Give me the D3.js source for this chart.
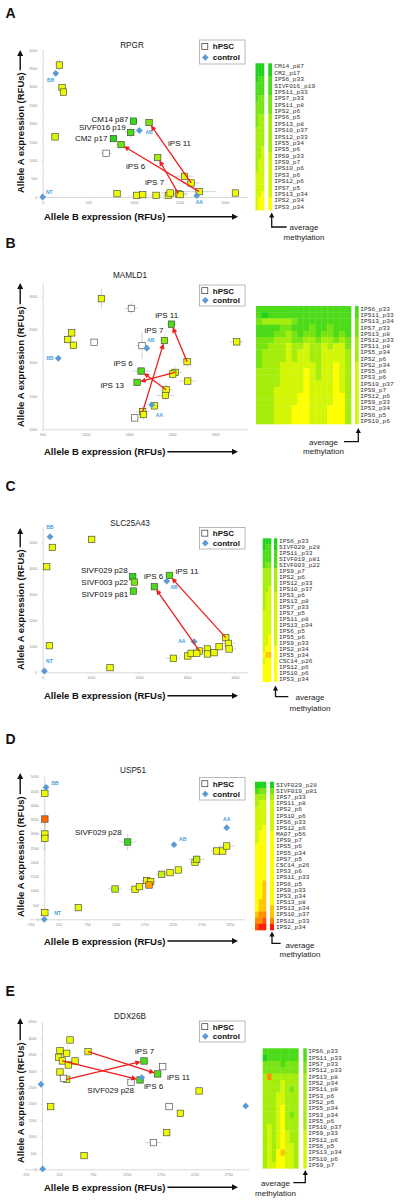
<!DOCTYPE html>
<html><head><meta charset="utf-8">
<script src="https://cdn.jsdelivr.net/npm/d3@7"></script>
<style>body{margin:0;background:#fff}svg{display:block}</style>
</head><body>
<svg id="c" width="400" height="1204"></svg>
<script>
// ---------------- DATA ----------------
const letters = ["A","B","C","D","E"];
const genes = ["RPGR","MAMLD1","SLC25A43","USP51","DDX26B"];

// Panel A – RPGR
const aX = [183,212,227,135,695,775,859,995,965,1166,1261,1554,1627,1715,815,1031,1097,1243,1378,1397,1488,1506,2113];
const aY = [3590,2980,2855,1636,1190,1590,1427,2064,1755,2027,1073,564,382,145,91,45,64,45,45,109,91,64,109];
const aMeth = [4.6,4.6,4.6,4.2,null,0.3,1.8,0.5,1,2,3,4.2,4.6,4.6,4.6,4.6,4.6,4.6,4.6,4.6,4.6,4.6,4.6];
const aXErr = [20,20,20,0,60,30,50,30,60,40,40,100,100,180,30,60,40,60,60,100,100,80,30];
const aYErr = [150,60,60,50,70,50,60,80,150,60,80,80,80,60,30,20,20,20,20,40,40,20,40];
const aCtrlName = ["BB","AB","AA","NT"];
const aCtrlX = [143,1060,1689,0];
const aCtrlY = [3364,1809,36,0];
const aArrowFrom = [13,12,20];
const aArrowTo = [6,9,10];
const aArrowName = ["iPS 6","iPS 11","iPS 7"];
const aNamed = ["CM14 p87","SIVF016 p19","CM2 p17"];
const aNamedIdx = [7,8,5];
const aXTicks = [0,500,1000,1500,2000];
const aYTicks = [0,500,1000,1500,2000,2500,3000,3500,4000];
const aHeatRows = ["CM14_p87","CM2_p17","IPS6_p33","SIVF016_p19","IPS11_p33","IPS7_p33","IPS11_p8","IPS2_p6","IPS6_p5","IPS13_p8","IPS10_p37","IPS12_p33","IPS5_p34","IPS5_p6","IPS9_p33","IPS9_p7","IPS10_p6","IPS3_p6","IPS12_p6","IPS7_p5","IPS13_p34","IPS2_p34","IPS3_p34"];
const aHeatCells = ["000","000","011","111","111","122","222","222","233","233","333","333","333","334","334","344","344","444","444","444","445","455","455"];
const aHeatAvg = [0,0,1,1,1,2,2,2,3,3,3,3,3,3,4,4,4,4,4,4,4,5,5];

// Panel B – MAMLD1
const bX = [1345,1623,1069,1032,1085,1277,1722,1995,1930,2601,2140,1713,1676,2029,2007,2146,1945,1939,1837,1728,1735,1654];
const bY = [2960,2814,2447,2347,2261,2306,2256,2578,2332,2312,2015,1874,1704,1854,1829,1724,1593,1508,1352,1266,1221,1171];
const bMeth = [4.6,null,4.6,4.6,4.6,null,null,1,2.5,4.6,4.6,1,1.2,4.3,4.6,4.6,4.6,4.6,4.6,4.3,4.6,null];
const bXErr = [40,60,20,20,20,20,60,40,40,60,40,80,30,60,60,80,60,80,40,60,40,40];
const bYErr = [150,80,60,60,60,30,200,50,80,60,60,60,40,80,80,60,100,80,60,100,80,40];
const bCtrlName = ["BB","AB","AA"];
const bCtrlX = [945,1766,1812];
const bCtrlY = [2065,2216,1367];
const bArrowFrom = [10,19,16,13];
const bArrowTo = [7,8,11,12];
const bArrowName = ["iPS 11","iPS 7","iPS 6","iPS 13"];
const bNamed = [];
const bNamedIdx = [];
const bXTicks = [800,1200,1600,2000,2400];
const bYTicks = [1000,1500,2000,2500,3000];
const bHeatRows = ["IPS6_p33","IPS11_p33","IPS13_p34","IPS7_p33","IPS13_p8","IPS12_p33","IPS11_p8","IPS5_p34","IPS2_p6","IPS2_p34","IPS5_p6","IPS3_p6","IPS10_p37","IPS9_p7","IPS12_p6","IPS9_p33","IPS3_p34","IPS6_p5","IPS10_p6"];
const bHeatCells = ["1111111111111111","1011111111111111","2333332111111111","1111221112112111","1112232122122121","2223332233233232","2233343343343442","2333343443344443","2333343443344443","2333444444344543","3333444454344543","3333444454344543","3333444454444543","3334444454444543","3334444554444553","3334444554444553","3334445554445553","3334445554445553","3334445554445553"];
const bHeatAvg = [1,1,2,2,2,3,3,3,3,4,4,4,4,4,4,4,4,4,4];

// Panel C – SLC25A43
const cX = [1019,201,83,139,1400,1872,1906,1886,2322,2634,2718,3016,3085,3258,3203,3425,3425,3563,3667,3806,3861,3875];
const cY = [5129,4820,4075,1028,180,3689,3483,3136,3303,3740,540,630,733,823,733,900,707,758,990,1337,1118,900];
const cMeth = [4.6,4.6,4.6,4.6,4.6,0.5,2,1,1,1.2,4.6,4.6,4.6,4.6,4.6,4.6,4.6,4.6,4.6,4.6,4.6,4.6];
const cXErr = [40,40,0,0,80,40,40,40,40,40,150,60,80,200,100,100,80,80,80,80,150,150];
const cYErr = [150,80,0,0,50,80,100,100,50,50,50,50,60,60,60,60,60,50,60,80,80,80];
const cCtrlName = ["BB","AB","AA","NT"];
const cCtrlX = [153,2579,3147,35];
const cCtrlY = [5231,3522,1183,51];
const cArrowFrom = [19,13];
const cArrowTo = [9,8];
const cArrowName = ["iPS 11","iPS 6"];
const cNamed = ["SIVF029 p28","SIVF003 p22","SIVF019 p81"];
const cNamedIdx = [5,6,7];
const cXTicks = [0,1000,2000,3000,4000];
const cYTicks = [0,1000,2000,3000,4000,5000];
const cHeatRows = ["IPS6_p33","SIVF029_p28","IPS11_p33","SIVF019_p81","SIVF003_p22","IPS9_p7","IPS2_p6","IPS12_p33","IPS10_p37","IPS3_p6","IPS13_p8","IPS7_p33","IPS7_p5","IPS11_p8","IPS13_p34","IPS6_p5","IPS5_p6","IPS9_p33","IPS2_p34","IPS5_p34","CSC14_p26","IPS12_p6","IPS10_p6","IPS3_p34"];
const cHeatCells = ["000","011","111","111","122","333","333","333","334","344","344","344","444","444","444","444","445","445","455","566","455","555","555","555"];
const cHeatAvg = [0,0,1,1,1,3,3,3,3,4,4,4,4,4,4,4,4,4,5,5,5,5,5,5];

// Panel D – USP51
const dX = [10,10,10,10,10,596,1459,1238,1588,1664,1792,1862,1833,2054,2200,2346,2638,2667,3017,3122,3192];
const dY = [4416,3516,2990,2839,234,409,2710,1063,1051,1145,1355,1320,1203,1577,1636,1729,1998,2103,2395,2395,2570];
const dMeth = [4.6,7.6,4.6,4.6,4.6,4.6,0.5,3.5,4.6,4.6,4.6,4.6,6.6,3.8,4.6,4.6,4.6,3.5,4.6,4.6,4.6];
const dXErr = [0,0,0,0,0,0,150,120,100,100,100,100,60,100,80,60,100,150,100,100,150];
const dYErr = [100,250,600,100,100,0,300,60,80,100,100,100,100,80,100,60,60,150,80,60,80];
const dCtrlName = ["BB","AB","AA","NT"];
const dCtrlX = [30,2270,3192,0];
const dCtrlY = [4626,2617,3213,0];
const dArrowFrom = [];
const dArrowTo = [];
const dArrowName = [];
const dNamed = ["SIVF029 p28"];
const dNamedIdx = [6];
const dXTicks = [-250,250,750,1250,1750,2250,2750,3250];
const dYTicks = [0,500,1000,1500,2000,2500,3000,3500,4000,4500,5000];
const dHeatRows = ["SIVF029_p28","SIVF019_p81","IPS7_p33","IPS11_p8","IPS2_p6","IPS10_p6","IPS6_p33","IPS12_p6","MA07_p56","IPS9_p7","IPS5_p6","IPS5_p34","IPS7_p5","CSC14_p26","IPS3_p6","IPS11_p33","IPS6_p5","IPS9_p33","IPS3_p34","IPS13_p8","IPS13_p34","IPS10_p37","IPS12_p33","IPS2_p34"];
const dHeatCells = ["000","122","333","344","444","444","444","445","455","455","555","555","555","555","555","555","556","556","556","566","566","677","778","899"];
const dHeatAvg = [0,2,3,4,4,4,4,4,5,5,5,5,5,5,5,5,5,5,5,5,6,6,7,9];

// Panel E – DDX26B
const eX = [414,266,365,247,301,389,488,680,266,365,316,129,621,1314,1447,1506,1708,1781,1875,1644,1840,2042,2318];
const eY = [3943,3618,3537,3415,3303,3181,3303,3587,2967,2744,2774,1911,417,2652,2724,3303,2907,3130,1911,813,1118,1707,2388];
const eMeth = [4.6,4.6,4.6,4.6,4.6,4.6,4.6,4.6,4.6,4.6,null,4.6,4.6,null,1,1,1.2,null,null,null,4.6,4.6,4.6];
const eXErr = [20,20,20,20,20,20,20,40,20,20,20,0,0,40,40,60,60,40,60,120,50,30,40];
const eYErr = [40,80,40,40,40,40,40,40,40,40,40,0,0,40,60,40,40,40,40,40,30,30,30];
const eCtrlName = ["BB","AB","AA","NT"];
const eCtrlX = [-14,1472,3005,11];
const eCtrlY = [2591,2795,1931,10];
const eArrowFrom = [9,4,7];
const eArrowTo = [15,14,16];
const eArrowName = ["iPS 7","iPS 6","iPS 11"];
const eNamed = ["SIVF029 p28"];
const eNamedIdx = [13];
const eXTicks = [-250,250,750,1250,1750,2250,2750];
const eYTicks = [0,500,1000,1500,2000,2500,3000,3500,4000,4500];
const eHeatRows = ["IPS6_p33","IPS11_p33","IPS7_p33","IPS12_p33","IPS13_p8","IPS2_p34","IPS11_p8","IPS3_p6","IPS2_p6","IPS5_p34","IPS3_p34","IPS5_p6","IPS10_p37","IPS9_p33","IPS12_p6","IPS6_p5","IPS13_p34","IPS10_p6","IPS9_p7"];
const eHeatCells = ["11111111","01111111","22221222","22222222","37333333","33334333","33334323","33344333","33344333","33345333","33345323","33345333","34345333","34345433","34345433","34345443","34356443","34355443","34455443"];
const eHeatAvg = [1,1,2,2,3,3,3,3,3,3,3,3,3,4,4,4,4,4,4];

// ---------------- LAYOUT ----------------
const panels = [
 {letter:letters[0],gene:genes[0],X:aX,Y:aY,M:aMeth,XE:aXErr,YE:aYErr,CN:aCtrlName,CX:aCtrlX,CY:aCtrlY,AF:aArrowFrom,AT:aArrowTo,AN:aArrowName,NN:aNamed,NI:aNamedIdx,XT:aXTicks,YT:aYTicks,HR:aHeatRows,HC:aHeatCells,HA:aHeatAvg},
 {letter:letters[1],gene:genes[1],X:bX,Y:bY,M:bMeth,XE:bXErr,YE:bYErr,CN:bCtrlName,CX:bCtrlX,CY:bCtrlY,AF:bArrowFrom,AT:bArrowTo,AN:bArrowName,NN:bNamed,NI:bNamedIdx,XT:bXTicks,YT:bYTicks,HR:bHeatRows,HC:bHeatCells,HA:bHeatAvg},
 {letter:letters[2],gene:genes[2],X:cX,Y:cY,M:cMeth,XE:cXErr,YE:cYErr,CN:cCtrlName,CX:cCtrlX,CY:cCtrlY,AF:cArrowFrom,AT:cArrowTo,AN:cArrowName,NN:cNamed,NI:cNamedIdx,XT:cXTicks,YT:cYTicks,HR:cHeatRows,HC:cHeatCells,HA:cHeatAvg},
 {letter:letters[3],gene:genes[3],X:dX,Y:dY,M:dMeth,XE:dXErr,YE:dYErr,CN:dCtrlName,CX:dCtrlX,CY:dCtrlY,AF:dArrowFrom,AT:dArrowTo,AN:dArrowName,NN:dNamed,NI:dNamedIdx,XT:dXTicks,YT:dYTicks,HR:dHeatRows,HC:dHeatCells,HA:dHeatAvg},
 {letter:letters[4],gene:genes[4],X:eX,Y:eY,M:eMeth,XE:eXErr,YE:eYErr,CN:eCtrlName,CX:eCtrlX,CY:eCtrlY,AF:eArrowFrom,AT:eArrowTo,AN:eArrowName,NN:eNamed,NI:eNamedIdx,XT:eXTicks,YT:eYTicks,HR:eHeatRows,HC:eHeatCells,HA:eHeatAvg}
];
const layouts = [
 {letterY:18,titleX:132,titleY:48,legend:[199.3,40,45.7,24],xDomain:[0,2250],xRange:[42.7,247.9],yDomain:[0,4000],yRange:[197,50],
  yLabY:193,yArrowTop:50,xLabY:220,xArrowY:216.7,
  heat:{x:255.5,w:8.5,y:63.3,h:146.7,avgX:268.3,avgW:3.7,labelX:274.3},
  note:{x:271.7,y0:212.5,y1:227,hx:286.7,tx:304,t1:229.5,t2:239.5},
  arrowLab:[[5,24.4,"start"],[19,23.5,"start"],[-12.7,27.4,"start"]],
  namedLab:[[-5,1,"end"],[-5,-3,"end"],[-6,2.5,"end"]],
  ctrlLab:[[-5,8.5],[9.7,3.2],[2.6,8.2],[6.6,-2.9]]},
 {letterY:248,titleX:130,titleY:278,legend:[199.3,285,45.7,21],xDomain:[800,2700],xRange:[42.7,247.4],yDomain:[1000,3200],yRange:[429.3,282.7],
  yLabY:427,yArrowTop:283,xLabY:455,xArrowY:451.7,
  heat:{x:256,w:95,y:306,h:118,avgX:355,avgW:3.7,labelX:360.3},
  note:{x:358.3,y0:428,y1:441.7,hx:344,tx:323.5,t1:444.5,t2:454},
  arrowLab:[[-16.3,-5.7,"start"],[-20,-7.3,"start"],[-8.3,-5.3,"end"],[-13,6,"end"]],
  namedLab:[],
  ctrlLab:[[-8.3,1.4],[4,-6.2],[7.6,11.8]]},
 {letterY:491,titleX:130,titleY:526,legend:[199.3,527.3,45.7,21.7],xDomain:[0,4250],xRange:[42.7,247.1],yDomain:[0,5600],yRange:[672.3,527.2],
  yLabY:670,yArrowTop:528,xLabY:699,xArrowY:695.7,
  heat:{x:262.7,w:8.3,y:538.3,h:143.4,avgX:274,avgW:3.3,labelX:279},
  note:{x:275.5,y0:685.5,y1:696.7,hx:288.3,tx:310,t1:699.5,t2:711},
  arrowLab:[[6,-1.6,"start"],[-10.3,-7.4,"start"]],
  namedLab:[[-5,-4,"end"],[-6.3,2.7,"end"],[-5.3,6.3,"end"]],
  ctrlLab:[[0,-7.6],[7.3,8.1],[-12.3,1.8],[5,-7.5]]},
 {letterY:744,titleX:133,titleY:773,legend:[199.3,777.7,45.7,22.3],xDomain:[-250,3500],xRange:[30,244.3],yDomain:[0,5000],yRange:[919.3,776.7],
  yLabY:917,yArrowTop:773,xLabY:944.5,xArrowY:941,
  heat:{x:255,w:11,y:781.7,h:148.3,avgX:270,avgW:4,labelX:276},
  note:{x:272,y0:931.5,y1:943.3,hx:280.7,tx:300,t1:947.8,t2:956.8},
  arrowLab:[],
  namedLab:[[-6,-6.7,"end"]],
  ctrlLab:[[9,-2.8],[8.7,-3.6],[0,-6.6],[13.3,-4.2]]},
 {letterY:996,titleX:130,titleY:1019,legend:[199.3,1021,45.7,21],xDomain:[-250,3050],xRange:[25,248.7],yDomain:[0,4500],yRange:[1169.3,1021.7],
  yLabY:1163,yArrowTop:1018,xLabY:1190.8,xArrowY:1187.3,
  heat:{x:262.7,w:35.6,y:1048.3,h:120,avgX:303.3,avgW:3.4,labelX:308.3},
  note:{x:305.3,y0:1170,y1:1182.7,hx:293.3,tx:275.5,t1:1186,t2:1196},
  arrowLab:[[-9,-7.3,"start"],[4,8.7,"start"],[9.3,6.3,"start"]],
  namedLab:[[3,10.4,"end"]],
  ctrlLab:null}
];

// ---------------- DRAW ----------------
const svg = d3.select("#c");
const SANS = "Arial, 'Liberation Sans', sans-serif";
const color = d3.scaleLinear().domain([0,5,9]).range(["#1ed21e","#ffff00","#ff1a00"]).clamp(true);
const CTRL = "#5b9bd5";
const fmt = d3.format("d");

function arrowHead(g, x1, y1, x2, y2, len, hw, fill){
  const a = Math.atan2(y2-y1, x2-x1);
  const bx = x2 - len*Math.cos(a), by = y2 - len*Math.sin(a);
  const px = -Math.sin(a)*hw, py = Math.cos(a)*hw;
  g.append("path").attr("d",`M${x2},${y2}L${bx+px},${by+py}L${bx-px},${by-py}Z`).attr("fill",fill);
}
function arrowLine(g, x1,y1,x2,y2, col, w, len, hw){
  const a = Math.atan2(y2-y1, x2-x1);
  g.append("line").attr("x1",x1).attr("y1",y1)
    .attr("x2",x2-(len-1)*Math.cos(a)).attr("y2",y2-(len-1)*Math.sin(a))
    .attr("stroke",col).attr("stroke-width",w);
  arrowHead(g,x1,y1,x2,y2,len,hw,col);
}

panels.forEach((P,pi)=>{
  const L = layouts[pi];
  const g = svg.append("g");
  const x = d3.scaleLinear().domain(L.xDomain).range(L.xRange);
  const y = d3.scaleLinear().domain(L.yDomain).range(L.yRange);

  g.append("text").attr("x",5.5).attr("y",L.letterY).text(P.letter)
    .attr("font-family",SANS).attr("font-size",14).attr("font-weight","bold").attr("fill","#111");
  g.append("text").attr("x",L.titleX).attr("y",L.titleY).attr("text-anchor","middle").text(P.gene)
    .attr("font-family",SANS).attr("font-size",8.2).attr("fill","#222");

  // axes
  const yAxisX = x(Math.max(L.xDomain[0],0));
  const ya = g.append("g").attr("transform",`translate(${yAxisX},0)`)
    .call(d3.axisLeft(y).tickValues(P.YT).tickFormat(fmt).tickSize(1.5).tickSizeOuter(0).tickPadding(4));
  const xa = g.append("g").attr("transform",`translate(0,${y(L.yDomain[0])})`)
    .call(d3.axisBottom(x).tickValues(P.XT).tickFormat(fmt).tickSize(1.5).tickSizeOuter(0).tickPadding(2.5));
  [ya,xa].forEach(a=>{
    a.attr("font-size",3.6).attr("font-family",SANS);
    a.select(".domain").attr("stroke","#c8c8c8").attr("stroke-width",0.7);
    a.selectAll(".tick line").attr("stroke","#c8c8c8").attr("stroke-width",0.5);
    a.selectAll(".tick text").attr("fill","#8a8a8a");
  });

  // axis titles with arrows
  const yt = g.append("text").attr("transform",`translate(23.5,${L.yLabY}) rotate(-90)`)
    .text("Allele A expression (RFUs)").attr("font-family",SANS).attr("font-size",9.5).attr("font-weight","bold").attr("fill","#111");
  const ylen = yt.node().getComputedTextLength();
  arrowLine(g,20.2,L.yLabY-ylen-2,20.2,L.yArrowTop,"#111",1.4,6,3);
  const xt = g.append("text").attr("x",44).attr("y",L.xLabY)
    .text("Allele B expression (RFUs)").attr("font-family",SANS).attr("font-size",9.5).attr("font-weight","bold").attr("fill","#111");
  const xlen = xt.node().getComputedTextLength();
  arrowLine(g,44+xlen+2,L.xArrowY,238,L.xArrowY,"#111",1.4,6,3);

  // error bars
  const eg = g.append("g").attr("stroke","#a8a8a8").attr("stroke-width",0.5);
  P.X.forEach((v,i)=>{
    if (P.XE[i]>0) eg.append("line").attr("x1",x(v-P.XE[i])).attr("x2",x(v+P.XE[i])).attr("y1",y(P.Y[i])).attr("y2",y(P.Y[i]));
    if (P.YE[i]>0) eg.append("line").attr("x1",x(v)).attr("x2",x(v)).attr("y1",y(P.Y[i]-P.YE[i])).attr("y2",y(P.Y[i]+P.YE[i]));
  });

  // points
  const S = 6.4;
  P.X.forEach((v,i)=>{
    g.append("rect").attr("x",x(v)-S/2).attr("y",y(P.Y[i])-S/2).attr("width",S).attr("height",S)
      .attr("fill",P.M[i]===null?"#fff":color(P.M[i])).attr("stroke","#3a3a3a").attr("stroke-width",0.6);
  });

  // controls
  const D = 3.4;
  P.CX.forEach((v,i)=>{
    const cx=x(v), cy=y(P.CY[i]);
    g.append("path").attr("d",`M${cx},${cy-D}L${cx+D},${cy}L${cx},${cy+D}L${cx-D},${cy}Z`).attr("fill",CTRL);
    if (L.ctrlLab) g.append("text").attr("x",cx+L.ctrlLab[i][0]).attr("y",cy+L.ctrlLab[i][1]).attr("text-anchor","middle")
      .text(P.CN[i]).attr("font-family",SANS).attr("font-size",5).attr("font-weight","bold").attr("fill","#44a0dc");
  });

  // red arrows
  P.AF.forEach((f,i)=>{
    const t = P.AT[i];
    const x1=x(P.X[f]), y1=y(P.Y[f]), x2=x(P.X[t]), y2=y(P.Y[t]);
    const a=Math.atan2(y2-y1,x2-x1);
    arrowLine(g,x1,y1,x2-3.2*Math.cos(a),y2-3.2*Math.sin(a),"#ee1c1c",1.3,5.5,2.6);
    const o = L.arrowLab[i];
    g.append("text").attr("x",x2+o[0]).attr("y",y2+o[1]).attr("text-anchor",o[2]).text(P.AN[i])
      .attr("font-family",SANS).attr("font-size",8).attr("fill","#111");
  });
  P.NN.forEach((n,i)=>{
    const k=P.NI[i], o=L.namedLab[i];
    g.append("text").attr("x",x(P.X[k])+o[0]).attr("y",y(P.Y[k])+o[1]).attr("text-anchor",o[2]).text(n)
      .attr("font-family",SANS).attr("font-size",8).attr("fill","#111");
  });

  // legend
  const [lx,ly,lw,lh] = L.legend;
  g.append("rect").attr("x",lx).attr("y",ly).attr("width",lw).attr("height",lh).attr("fill","#fff").attr("stroke","#8a8a8a").attr("stroke-width",0.6);
  const r1 = ly+lh*0.27, r2 = ly+lh*0.73;
  g.append("rect").attr("x",lx+2.5).attr("y",r1-3).attr("width",6).attr("height",6).attr("fill","#fff").attr("stroke","#333").attr("stroke-width",0.7);
  g.append("path").attr("d",`M${lx+6},${r2-3.3}L${lx+9.3},${r2}L${lx+6},${r2+3.3}L${lx+2.7},${r2}Z`).attr("fill",CTRL);
  g.append("text").attr("x",lx+13.5).attr("y",r1+2.9).text("hPSC").attr("font-family",SANS).attr("font-size",8).attr("font-weight","bold").attr("fill","#111");
  g.append("text").attr("x",lx+13.5).attr("y",r2+2.9).text("control").attr("font-family",SANS).attr("font-size",8).attr("font-weight","bold").attr("fill","#111");

  // heatmap
  const H = L.heat;
  const rowB = d3.scaleBand().domain(P.HR).range([H.y, H.y+H.h]);
  P.HR.forEach((r,i)=>{
    const s = P.HC[i];
    const colB = d3.scaleBand().domain(d3.range(s.length)).range([H.x, H.x+H.w]);
    for (let j=0;j<s.length;j++){
      g.append("rect").attr("x",colB(j)).attr("y",rowB(r)).attr("width",colB.bandwidth()+0.3).attr("height",rowB.bandwidth()+0.3)
        .attr("fill",color(+s[j]));
    }
    g.append("rect").attr("x",H.avgX).attr("y",rowB(r)).attr("width",H.avgW).attr("height",rowB.bandwidth()+0.3).attr("fill",color(P.HA[i]));
    g.append("text").attr("x",H.labelX).attr("y",rowB(r)+rowB.bandwidth()/2+1.9).text(r)
      .attr("font-family","'Liberation Mono','Courier New',monospace").attr("font-size",6.2).attr("fill","#333");
  });

  // average methylation note
  const N = L.note;
  g.append("path").attr("d",`M${N.x},${N.y0+4}L${N.x},${N.y1}L${N.hx},${N.y1}`).attr("fill","none").attr("stroke","#111").attr("stroke-width",1.3);
  arrowHead(g,N.x,N.y1,N.x,N.y0,5,2.6,"#111");
  g.append("text").attr("x",N.tx).attr("y",N.t1).attr("text-anchor","middle").text("average").attr("font-family",SANS).attr("font-size",8).attr("fill","#222");
  g.append("text").attr("x",N.tx).attr("y",N.t2).attr("text-anchor","middle").text("methylation").attr("font-family",SANS).attr("font-size",8).attr("fill","#222");
});
</script>
</body></html>
